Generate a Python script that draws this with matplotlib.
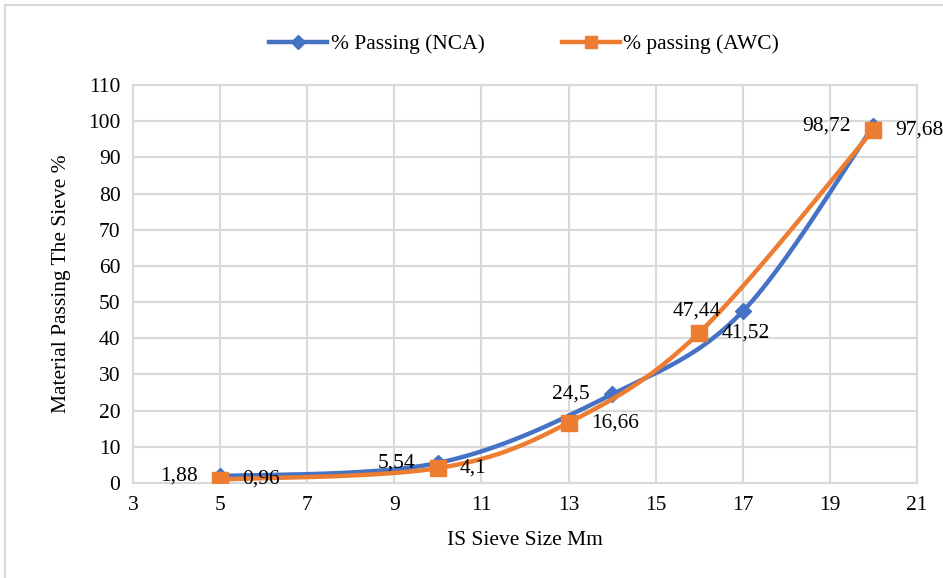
import numpy as np
import matplotlib
matplotlib.use("Agg")
import matplotlib.pyplot as plt
from matplotlib.lines import Line2D
from matplotlib.patches import Rectangle

plt.rcParams['font.family'] = ['Liberation Serif', 'DejaVu Serif']

# Data
x_nca = [5, 10, 14, 17, 20]
y_nca = [1.88, 5.54, 24.5, 47.44, 98.72]
x_awc = [5, 10, 13, 16, 20]
y_awc = [0.96, 4.1, 16.66, 41.52, 97.68]
label_nca = "% Passing (NCA)"
label_awc = "% passing (AWC)"
x_ticks = [3, 5, 7, 9, 11, 13, 15, 17, 19, 21]
y_ticks = list(range(0, 111, 10))

BLUE = '#4472C4'
ORANGE = '#ED7D31'
GRID = '#D9D9D9'
FS = 15.5


def smooth(xs, ys, n=60):
    xs = np.asarray(xs, float)
    ys = np.asarray(ys, float)
    P = np.column_stack([xs, ys])
    out = []
    for i in range(len(P) - 1):
        p0 = P[i - 1] if i > 0 else P[i]
        p1 = P[i]
        p2 = P[i + 1]
        p3 = P[i + 2] if i + 2 < len(P) else P[i + 1]
        c1 = p1 + (p2 - p0) / 6.0
        c2 = p2 - (p3 - p1) / 6.0
        t = np.linspace(0, 1, n)[:, None]
        seg = ((1 - t) ** 3) * p1 + 3 * ((1 - t) ** 2) * t * c1 + 3 * (1 - t) * t ** 2 * c2 + t ** 3 * p2
        out.append(seg if i == 0 else seg[1:])
    s = np.vstack(out)
    return s[:, 0], s[:, 1]


fig = plt.figure(figsize=(9.43, 5.78), dpi=100)
W, H = 943, 578
# outer chart border (only top/left visible in reference)
fig.add_artist(Rectangle((5 / W, -0.1), 1.2, (1 - 5 / H) + 0.1, transform=fig.transFigure,
                         fill=False, edgecolor=GRID, linewidth=1.5))

ax = fig.add_axes([133 / W, 1 - 483 / H, (917 - 133) / W, (483 - 85) / H])
ax.set_xlim(3, 21)
ax.set_ylim(0, 110)
ax.set_xticks(x_ticks)
ax.set_yticks(y_ticks)
ax.grid(True, color=GRID, linewidth=1.5)
ax.set_axisbelow(True)
for s in ax.spines.values():
    s.set_color(GRID)
    s.set_linewidth(1.5)
ax.tick_params(length=0, labelsize=FS, pad=9)

sx, sy = smooth(x_nca, y_nca)
ax.plot(sx, sy, color=BLUE, linewidth=3.2, solid_capstyle='round', zorder=3)
ax.plot(x_nca, y_nca, linestyle='none', marker='D', markersize=8.5, color=BLUE, zorder=4)
sx, sy = smooth(x_awc, y_awc)
ax.plot(sx, sy, color=ORANGE, linewidth=3.2, solid_capstyle='round', zorder=5)
ax.plot(x_awc, y_awc, linestyle='none', marker='s', markersize=12, color=ORANGE, zorder=6)

for x, y in zip(x_nca, y_nca):
    ax.annotate(f"{y:g}".replace('.', ','), (x, y), xytext=(-16, 0), textcoords='offset points',
                ha='right', va='center', fontsize=FS, zorder=7)
for x, y in zip(x_awc, y_awc):
    ax.annotate(f"{y:g}".replace('.', ','), (x, y), xytext=(16, 0), textcoords='offset points',
                ha='left', va='center', fontsize=FS, zorder=7)

ax.set_xlabel("IS Sieve Size Mm", fontsize=FS, labelpad=12)
ax.set_ylabel("Material Passing The Sieve %", fontsize=FS, labelpad=12)

handles = [Line2D([], [], color=BLUE, linewidth=3.2, marker='D', markersize=7),
           Line2D([], [], color=ORANGE, linewidth=3.2, marker='s', markersize=8)]
fig.legend(handles, [label_nca, label_awc], loc='center', bbox_to_anchor=(0.556, 1 - 44 / H),
           ncol=2, frameon=False, fontsize=FS, handlelength=2.7, handletextpad=0.15,
           columnspacing=3.6)

fig.savefig("out.png", dpi=100)
